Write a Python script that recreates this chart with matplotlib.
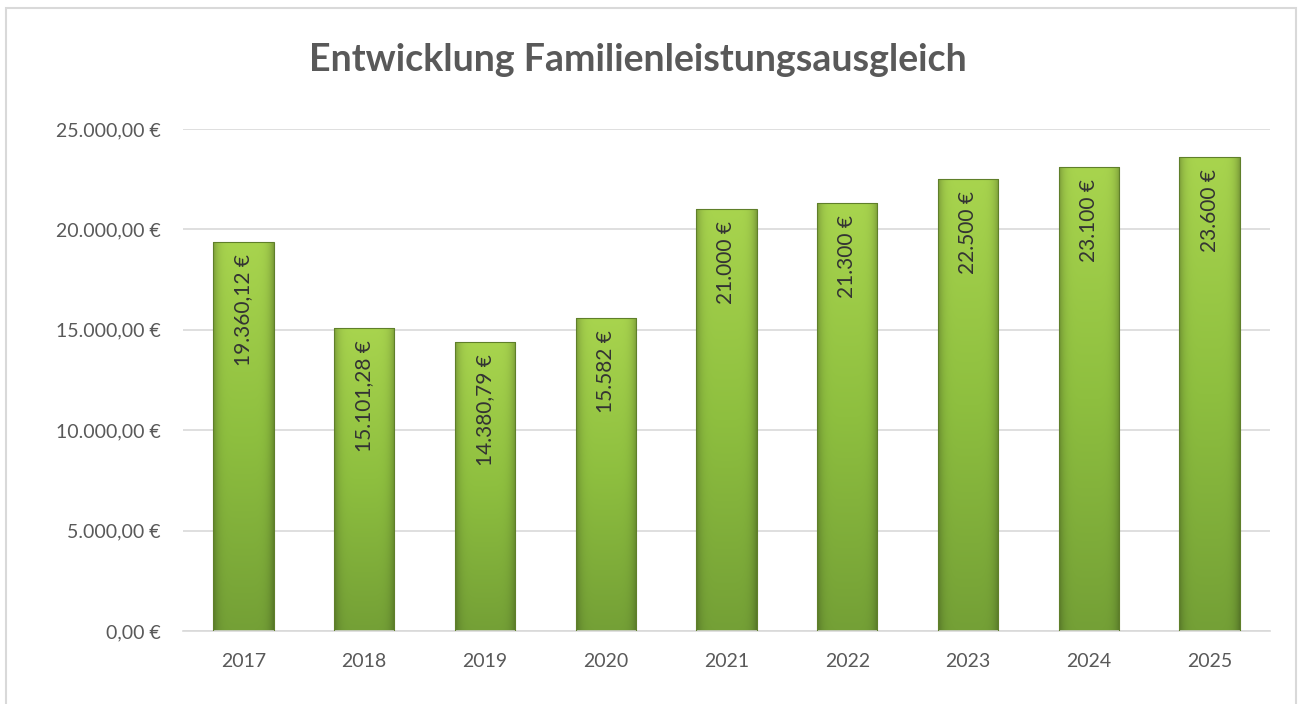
import numpy as np
import matplotlib.pyplot as plt
from matplotlib.patches import Rectangle
from matplotlib.colors import LinearSegmentedColormap

plt.rcParams['font.family'] = ['Lato', 'DejaVu Sans']

years = ["2017", "2018", "2019", "2020", "2021", "2022", "2023", "2024", "2025"]
values = [19360.12, 15101.28, 14380.79, 15582, 21000, 21300, 22500, 23100, 23600]
labels = ["19.360,12 €", "15.101,28 €", "14.380,79 €", "15.582 €", "21.000 €",
          "21.300 €", "22.500 €", "23.100 €", "23.600 €"]
yticks = [0, 5000, 10000, 15000, 20000, 25000]
ytick_labels = ["0,00 €", "5.000,00 €", "10.000,00 €", "15.000,00 €", "20.000,00 €", "25.000,00 €"]

fig = plt.figure(figsize=(13, 7.04), dpi=100)
ax = fig.add_axes([183 / 1300, 1 - 631 / 704, 1087 / 1300, 502 / 704])

# outer chart frame
fig.patches.append(Rectangle((6 / 1300, -0.01), 1290 / 1300, 1 - 8 / 704 + 0.01,
                             transform=fig.transFigure, fill=False,
                             edgecolor="#d9d9d9", linewidth=1.5))

x = np.arange(len(years))
bars = ax.bar(x, values, width=0.5, color="none", edgecolor="#5f7f2a", linewidth=0.8, zorder=3)

cmap = LinearSegmentedColormap.from_list("grn", ["#74a036", "#8ebf3f", "#a8d44e"])
grad = np.linspace(0, 1, 256).reshape(-1, 1)
# horizontal shading for a slight bevel look
hor = 1 - 0.25 * np.abs(np.linspace(-1, 1, 64)) ** 6
for b in bars:
    x0, w, h = b.get_x(), b.get_width(), b.get_height()
    img = cmap(grad)[:, :, :3] * hor[None, :, None]
    im = ax.imshow(img, extent=[x0, x0 + w, 0, h], origin="lower", aspect="auto", zorder=2)
    im.set_clip_path(b)

for xi, v, lab in zip(x, values, labels):
    ax.text(xi, v - 600, lab, rotation=90, ha="center", va="top",
            fontsize=15, color="#333333", zorder=4)

ax.set_xlim(-0.5, len(years) - 0.5)
ax.set_ylim(0, 25000)
ax.set_yticks(yticks)
ax.set_yticklabels(ytick_labels)
ax.set_xticks(x)
ax.set_xticklabels(years)
ax.tick_params(length=0, labelsize=14, labelcolor="#595959")
ax.tick_params(axis="y", pad=16)
ax.tick_params(axis="x", pad=16)
ax.grid(axis="y", color="#d9d9d9", linewidth=1.2, zorder=0)
ax.set_axisbelow(True)
for s in ["top", "right", "left"]:
    ax.spines[s].set_visible(False)
ax.spines["bottom"].set_color("#d9d9d9")
ax.spines["bottom"].set_linewidth(1.2)

fig.text(638 / 1300, 1 - 60 / 704, "Entwicklung Familienleistungsausgleich",
         ha="center", va="center", fontsize=27, fontweight="bold", color="#595959")

fig.savefig("out.png", dpi=100)
